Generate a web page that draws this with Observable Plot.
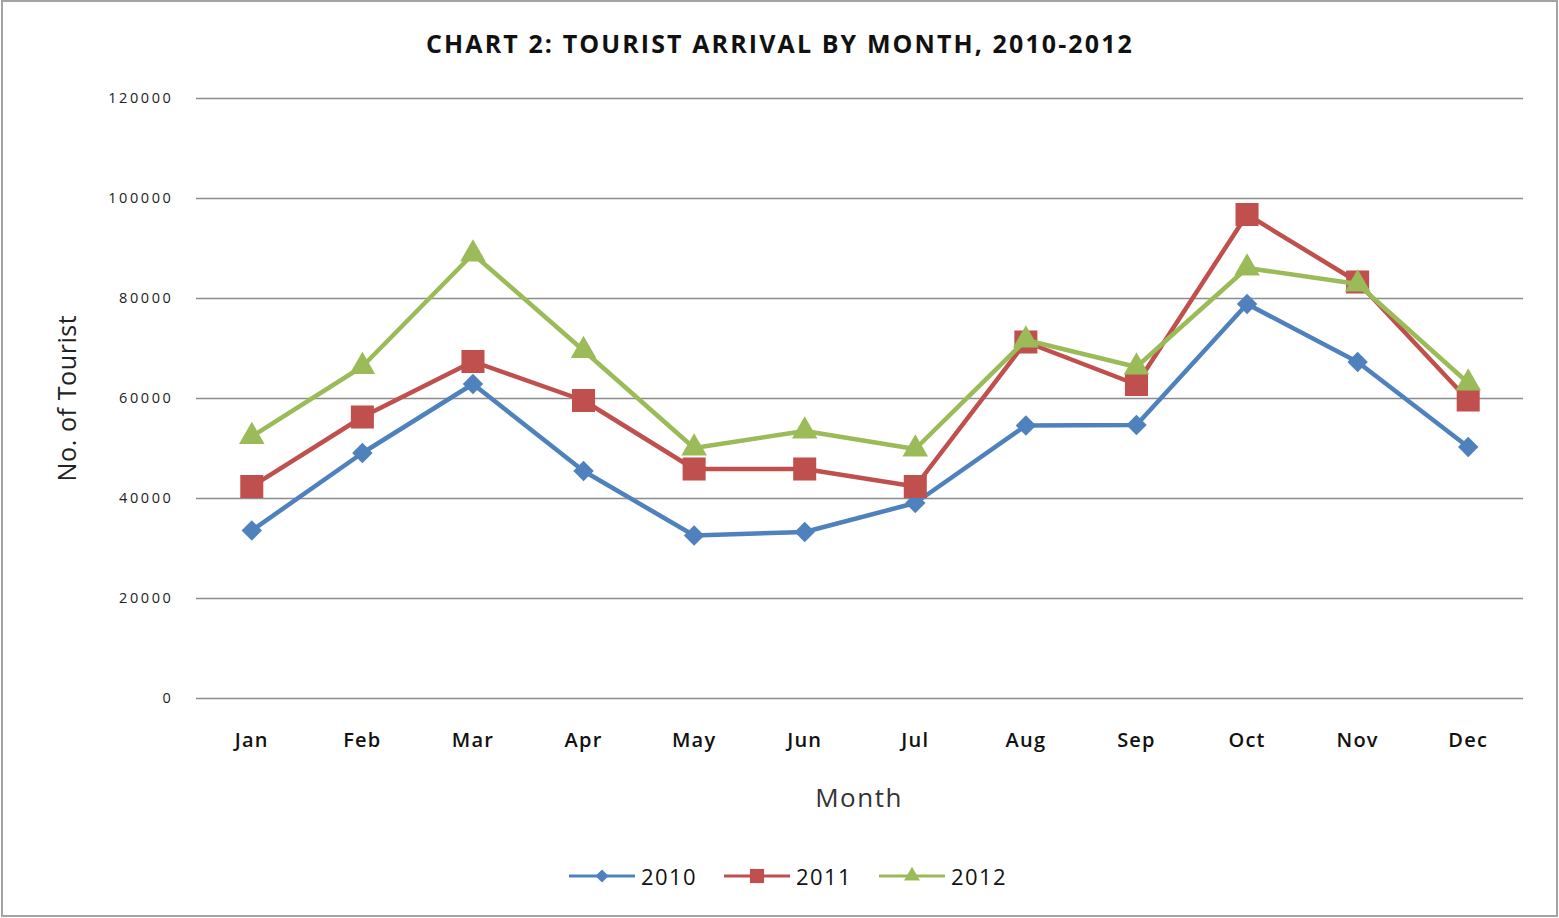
<!DOCTYPE html>
<html>
<head>
<meta charset="utf-8">
<script src="https://cdn.jsdelivr.net/npm/d3@7"></script>
<script src="https://cdn.jsdelivr.net/npm/@observablehq/plot@0.6"></script>
<style>
  html, body { margin: 0; padding: 0; background: #fff; }
  #wrap { position: relative; width: 1559px; height: 918px; overflow: hidden; font-family: "Open Sans", "DejaVu Sans", sans-serif; }
  #frame { position: absolute; left: 1px; top: 0px; width: 1553px; height: 913px; border: 2px solid #a3a3a3; box-sizing: content-box; }
  #chart { position: absolute; left: 0; top: 0; }
  #chart g[aria-label="y-axis tick label"] text { letter-spacing: 2.6px; }
  #chart g[aria-label="x-axis tick label"] text { letter-spacing: 1.2px; }
  #title { position: absolute; left: 780px; top: 43px; transform: translate(-50%, -50%); white-space: nowrap; font-weight: 700; font-size: 25px; color: #111; letter-spacing: 2.1px; }
  #ytitle { position: absolute; left: 66px; top: 398px; transform: translate(-50%, -50%) rotate(-90deg); font-size: 25px; color: #222; white-space: nowrap; letter-spacing: 0.6px; }
  #xtitle { position: absolute; left: 859px; top: 797px; transform: translate(-50%, -50%); font-size: 26px; color: #333; letter-spacing: 1.5px; }
  #legend { position: absolute; left: 0; width: 1559px; top: 876px; transform: translateY(-50%); display: flex; justify-content: center; gap: 27px; padding-left: 17px; box-sizing: border-box; }
  .item { display: flex; align-items: center; gap: 6px; font-size: 22px; color: #111; letter-spacing: 1.4px; }
</style>
</head>
<body>
<div id="wrap">
  <div id="chart"></div>
  <div id="frame"></div>
  <div id="title">CHART 2: TOURIST ARRIVAL BY MONTH, 2010-2012</div>
  <div id="ytitle">No. of Tourist</div>
  <div id="xtitle">Month</div>
  <div id="legend"></div>
</div>
<script>
const months = ["Jan","Feb","Mar","Apr","May","Jun","Jul","Aug","Sep","Oct","Nov","Dec"];
const years = ["2010","2011","2012"];
const values2010 = [33600, 49100, 62900, 45500, 32600, 33300, 39100, 54600, 54700, 78900, 67300, 50300];
const values2011 = [42400, 56300, 67400, 59600, 45900, 45900, 42400, 71300, 62800, 96800, 83300, 59700];
const values2012 = [52400, 66400, 88900, 69600, 50100, 53500, 49900, 71700, 66300, 86100, 82900, 63100];
const yTicks = [0, 20000, 40000, 60000, 80000, 100000, 120000];
const colors = ["#4F81BD", "#C0504D", "#9BBB59"];
const symbols = ["diamond2", "square", "triangle"];
const symbolR = [9.2, 13, 9.5];

const seriesValues = [values2010, values2011, values2012];
const data = years.flatMap((yr, i) => months.map((m, j) => ({year: yr, month: m, value: seriesValues[i][j]})));

const seriesMarks = years.flatMap((yr, i) => {
  const d = data.filter(r => r.year === yr);
  return [
    Plot.line(d, {x: "month", y: "value", stroke: "year", strokeWidth: 4.5, strokeLinejoin: "round"}),
    Plot.dot(d, {x: "month", y: "value", fill: "year", symbol: () => symbols[i], r: symbolR[i], stroke: "none"})
  ];
});

const chart = Plot.plot({
  width: 1559,
  height: 918,
  marginLeft: 196,
  marginRight: 36,
  marginTop: 98,
  marginBottom: 220,
  style: {background: "transparent", fontFamily: "'Open Sans', sans-serif"},
  x: {type: "point", domain: months, padding: 0.5, round: false, label: null},
  y: {domain: [0, 120000], label: null},
  color: {domain: years, range: colors},
  symbol: {domain: symbols, range: symbols},
  marks: [
    Plot.gridY(yTicks, {stroke: "#8c8c8c", strokeOpacity: 1, strokeWidth: 1.3}),
    Plot.axisY(yTicks, {tickSize: 0, tickPadding: 23, tickFormat: d => String(d), fontSize: 14.5, fill: "#222", label: null}),
    Plot.axisX(months, {tickSize: 0, tickPadding: 34, fontSize: 20, fontWeight: 600, fill: "#111", label: null}),
    ...seriesMarks
  ]
});
document.getElementById("chart").appendChild(chart);

// legend
const legend = document.getElementById("legend");
years.forEach((yr, i) => {
  const item = document.createElement("div");
  item.className = "item";
  const svg = d3.create("svg").attr("width", 66).attr("height", 20);
  svg.append("line").attr("x1", 0).attr("x2", 66).attr("y1", 10).attr("y2", 10).attr("stroke", colors[i]).attr("stroke-width", 3);
  const symMap = {diamond2: d3.symbolDiamond2, square: d3.symbolSquare, triangle: d3.symbolTriangle};
  const sizes = [110, 200, 110];
  svg.append("path").attr("transform", "translate(33,10)").attr("d", d3.symbol(symMap[symbols[i]], sizes[i])()).attr("fill", colors[i]);
  item.appendChild(svg.node());
  const label = document.createElement("span");
  label.textContent = yr;
  item.appendChild(label);
  legend.appendChild(item);
});
</script>
</body>
</html>
